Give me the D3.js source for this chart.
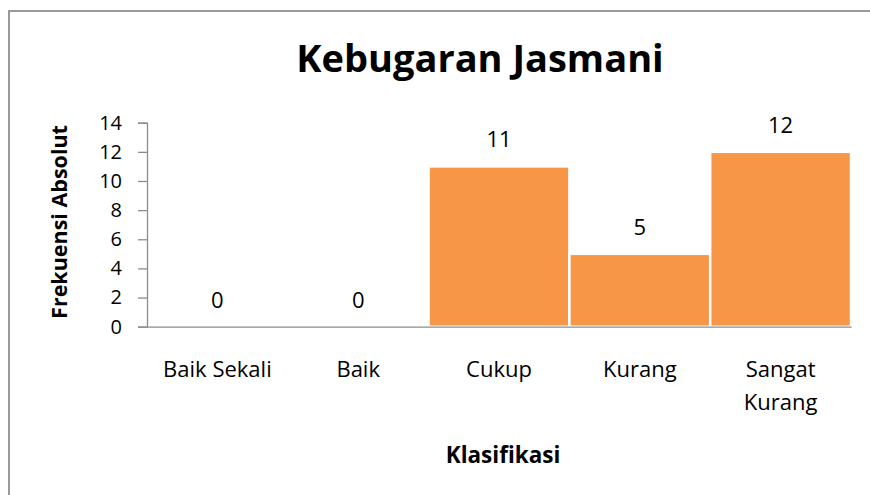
<!DOCTYPE html>
<html>
<head>
<meta charset="utf-8">
<script src="https://cdn.jsdelivr.net/npm/d3@7"></script>
<style>
  html, body { margin: 0; padding: 0; background: #fff; overflow: hidden; }
  svg { display: block; }
  text { font-family: "Open Sans", "Noto Sans", sans-serif; fill: #000; }
</style>
</head>
<body>
<div id="my_datavis"></div>
<script>
var categories = ["Baik Sekali", "Baik", "Cukup", "Kurang", "Sangat Kurang"];
var frekuensi = [0, 0, 11, 5, 12];
var yTicks = [0, 2, 4, 6, 8, 10, 12, 14];

var W = 870, H = 495;
var margin = { top: 122.7, bottom: 168.3, left: 147, right: 19 },
  width = W - margin.left - margin.right,
  height = H - margin.top - margin.bottom;

var svg = d3.select("#my_datavis")
  .append("svg")
  .attr("width", W)
  .attr("height", H);

// chart frame (only left and top edges fall inside the picture)
svg.append("path")
  .attr("d", "M9," + H + "V11H" + W)
  .attr("fill", "none")
  .attr("stroke", "#9a9a9a")
  .attr("stroke-width", 2);

var g = svg.append("g")
  .attr("transform", "translate(" + margin.left + "," + margin.top + ")");

var x = d3.scaleBand()
  .domain(categories)
  .range([0, width])
  .padding(0);

var y = d3.scaleLinear()
  .domain([0, 14])
  .range([height, 0]);

// bars
g.selectAll(".bar")
  .data(categories)
  .enter()
  .append("rect")
  .attr("class", "bar")
  .attr("x", function(d) { return x(d); })
  .attr("y", function(d, i) { return y(frekuensi[i]); })
  .attr("width", x.bandwidth())
  .attr("height", function(d, i) { return height - y(frekuensi[i]); })
  .attr("fill", "#f79646")
  .attr("stroke", "#fff")
  .attr("stroke-width", 2.5)
  .style("display", function(d, i) { return frekuensi[i] > 0 ? null : "none"; });

// y axis
var yAxis = g.append("g")
  .call(d3.axisLeft(y).tickValues(yTicks).tickSize(9).tickPadding(16));
yAxis.select(".domain").attr("stroke", "#8c8c8c").attr("stroke-width", 1.3);
yAxis.selectAll(".tick line").attr("stroke", "#8c8c8c").attr("stroke-width", 1.3);
yAxis.selectAll(".tick text")
  .attr("font-size", 20)
  .attr("font-family", "Open Sans, Noto Sans, sans-serif")
  .attr("fill", "#000");

// x axis line
var xAxis = g.append("g")
  .attr("transform", "translate(0," + height + ")")
  .call(d3.axisBottom(x).tickSize(0).tickFormat(""));
xAxis.select(".domain").attr("stroke", "#8c8c8c").attr("stroke-width", 1.3);

// category labels (wrapped)
var wraps = { "Sangat Kurang": ["Sangat", "Kurang"] };
g.selectAll(".cat")
  .data(categories)
  .enter()
  .append("text")
  .attr("class", "cat")
  .attr("text-anchor", "middle")
  .attr("font-size", 22)
  .attr("transform", function(d) {
    return "translate(" + (x(d) + x.bandwidth() / 2) + "," + (height + 50) + ")";
  })
  .each(function(d) {
    var lines = wraps[d] || [d];
    var t = d3.select(this);
    lines.forEach(function(l, k) {
      t.append("tspan").attr("x", 0).attr("y", k * 33).text(l);
    });
  });

// value labels
g.selectAll(".val")
  .data(categories)
  .enter()
  .append("text")
  .attr("class", "val")
  .attr("text-anchor", "middle")
  .attr("font-size", 22)
  .attr("x", function(d) { return x(d) + x.bandwidth() / 2; })
  .attr("y", function(d, i) { return y(frekuensi[i]) - 19; })
  .text(function(d, i) { return frekuensi[i]; });

// titles
svg.append("text")
  .attr("x", 480)
  .attr("y", 72)
  .attr("text-anchor", "middle")
  .attr("font-size", 38)
  .attr("font-weight", "bold")
  .text("Kebugaran Jasmani");

svg.append("text")
  .attr("transform", "translate(67,222) rotate(-90)")
  .attr("text-anchor", "middle")
  .attr("font-size", 21.5)
  .attr("font-weight", "bold")
  .text("Frekuensi Absolut");

svg.append("text")
  .attr("x", 503)
  .attr("y", 463)
  .attr("text-anchor", "middle")
  .attr("font-size", 22.5)
  .attr("font-weight", "bold")
  .text("Klasifikasi");
</script>
</body>
</html>
